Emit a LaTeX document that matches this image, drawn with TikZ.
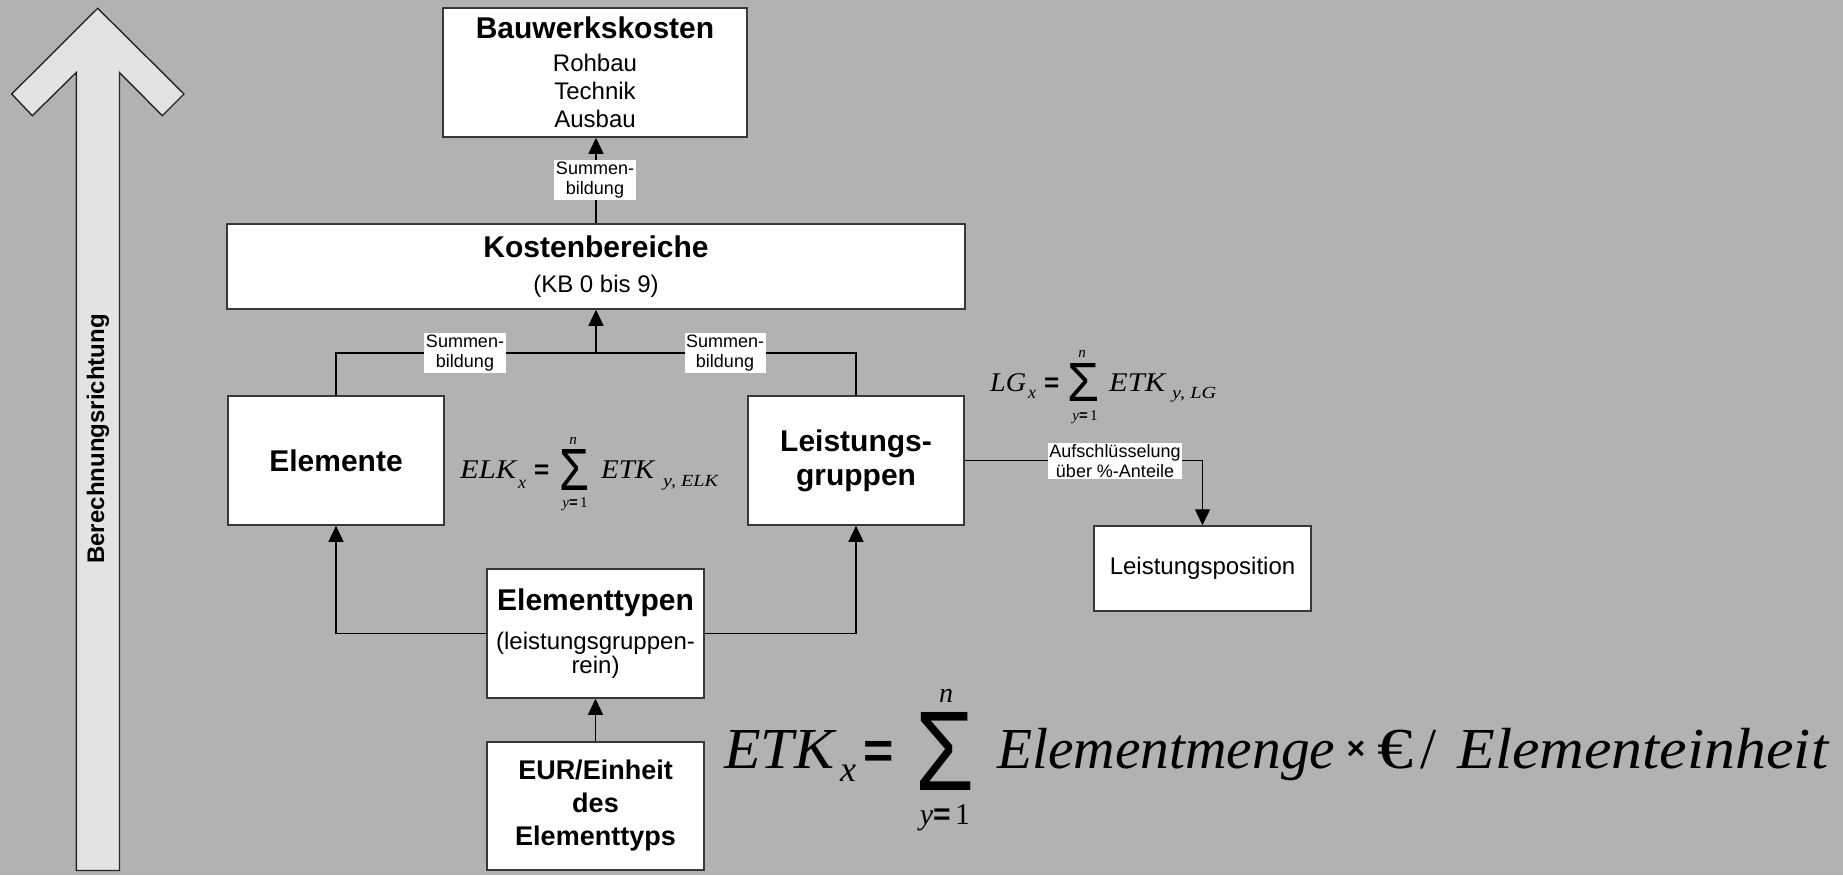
\documentclass[tikz,border=0pt]{standalone}
\usepackage{graphicx}
\usepackage{fontspec}
\setmainfont{Liberation Sans}
\newfontfamily\frmserif{Liberation Serif}
\newfontfamily\frmsans{Liberation Sans}
\usetikzlibrary{arrows.meta}
\definecolor{bggray}{RGB}{178,178,178}
\definecolor{arrowfill}{RGB}{227,227,227}
\newcommand\fs[2]{\fontsize{#1}{#2}\selectfont}
\newcommand\formit[1]{\frmserif\itshape\fontsize{#1}{#1}\selectfont}
\newcommand\formeq[1]{\frmsans\bfseries\fontsize{#1}{#1}\selectfont}
\newcommand\lowlim[1]{{\formit{#1}y}{\formeq{#1}=\hspace{0.15em}}{\frmserif\upshape\fontsize{#1}{#1}\selectfont 1}}
\newcommand\sigglyph[2]{\resizebox{#1}{#2}{\frmsans Σ}}
% set a text to a given width, keeping its height
\newcommand\fitw[2]{\resizebox{#1}{\height}{#2}}

\begin{document}
\begin{tikzpicture}[x=1pt,y=-1pt,
  box/.style={draw=black!78,line width=1.5pt,fill=white,inner sep=0pt,align=center,font=\fs{24}{28}},
  conn/.style={line width=1.3pt,draw=black},
  tip/.style={-{Triangle[width=15pt,length=16pt]}},
  lbl/.style={fill=white,inner sep=1.5pt,align=center,font=\fs{18}{20}},
  frm/.style={inner sep=0pt,anchor=base west},
  frmc/.style={inner sep=0pt,anchor=base},
  sig/.style={inner sep=0pt,anchor=south west},
]
\useasboundingbox (0,0) rectangle (1843,875);
\fill[bggray] (0,0) rectangle (1843,875);

% direction arrow on the left
\draw[draw=black!85,line width=1.4pt,fill=arrowfill,line join=miter]
  (97.7,8.3) -- (184,94) -- (162.3,115.7) -- (119.5,72.5) -- (119.5,870.5)
  -- (76.3,870.5) -- (76.3,72.5) -- (32.3,115.7) -- (11.7,94) -- cycle;
\node[rotate=90,inner sep=0pt,font=\bfseries\fs{24}{28}] (dir) at (98,439) {Berechnungsrichtung};

% boxes
\node[box,minimum width=304pt,minimum height=129pt] (bwk) at (595,72.5)
  {{\bfseries\fs{30}{33}Bauwerkskosten}\\[5pt]Rohbau\\Technik\\Ausbau};
\node[box,minimum width=738pt,minimum height=85pt] (kb) at (596,266.5)
  {{\bfseries\fs{30}{33}Kostenbereiche}\\[7pt](KB 0 bis 9)};
\node[box,minimum width=216pt,minimum height=129pt,font=\bfseries\fs{30}{28}] (el) at (336,460.5)
  {Elemente};
\node[box,minimum width=216pt,minimum height=129pt,font=\bfseries\fs{30}{34}] (lg) at (856,460.5)
  {Leistungs-\\gruppen};
\node[box,minimum width=217pt,minimum height=129pt,font=\fs{24}{24}] (et) at (595.5,633.5)
  {{\bfseries\fs{30}{33}Elementtypen}\\[15pt](leistungsgruppen-\\rein)};
\node[box,minimum width=217pt,minimum height=128pt,font=\bfseries\fs{27}{33}] (eur) at (595.5,806)
  {EUR/Einheit\\des\\Elementtyps};
\node[box,minimum width=217pt,minimum height=85pt] (lp) at (1202.5,568.5)
  {Leistungsposition};

% connectors
\coordinate (jn) at (596,353);
\draw[conn,tip] (kb.north) -- (kb.north |- bwk.south);
\draw[conn] (el.north) |- (jn) -| (lg.north);
\draw[conn,tip] (jn) -- (kb.south);
\draw[conn,tip] (et.west) -| (el.south);
\draw[conn,tip] (et.east) -| (lg.south);
\draw[conn,tip] (eur.north) -- (et.south);
\draw[conn,tip] (lg.east) -| (lp.north);

% connector labels
\node[lbl] (s1) at (595,180) {Summen-\\bildung};
\node[lbl] (s2) at (465,353) {Summen-\\bildung};
\node[lbl] (s3) at (725,353) {Summen-\\bildung};
\node[lbl] (auf) at (1115,461) {Aufschlüsselung\\über \%-Anteile};

% ELK formula
\node[frm,font=\formit{27}] (elk) at (460,478) {\fitw{56pt}{ELK}};
\node[frm,font=\formit{18}] (elkx) at (518,488) {x};
\node[frm,font=\formeq{26}] (elkeq) at (534,478) {=};
\node[sig] (elksig) at (559,491) {\sigglyph{30pt}{41pt}};
\node[frmc,font=\formit{15}] (elkn) at (573,444) {n};
\node[frmc] (elky) at (575,507) {\lowlim{15}};
\node[frm,font=\formit{27}] (elketk) at (601,478) {\fitw{53pt}{ETK}};
\node[frm,font=\formit{17}] (elksub) at (663,486) {\fitw{55pt}{y, ELK}};

% LG formula
\node[frm,font=\formit{27}] (lgf) at (990,391) {\fitw{36pt}{LG}};
\node[frm,font=\formit{18}] (lgx) at (1028,398) {x};
\node[frm,font=\formeq{26}] (lgeq) at (1044,391) {=};
\node[sig] (lgsig) at (1067,402) {\sigglyph{32pt}{38pt}};
\node[frmc,font=\formit{15}] (lgn) at (1082,357) {n};
\node[frmc] (lgy) at (1085,420) {\lowlim{15}};
\node[frm,font=\formit{27}] (lgetk) at (1109,391) {\fitw{56pt}{ETK}};
\node[frm,font=\formit{17}] (lgsub) at (1172,398) {\fitw{44pt}{y, LG}};

% ETK formula
\node[frm,font=\formit{58}] (etk) at (724,768) {\fitw{110pt}{ETK}};
\node[frm,font=\formit{36}] (etkx) at (840,781) {x};
\node[frm,font=\formeq{52}] (etkeq) at (863,768) {=};
\node[sig] (etksig) at (915,791) {\sigglyph{59pt}{78pt}};
\node[frmc,font=\formit{28}] (etkn) at (946,702) {n};
\node[frmc] (etky) at (945,824) {\lowlim{30}};
\node[frm,font=\formit{58}] (menge) at (997,768) {\fitw{338pt}{Elementmenge}};
\node[inner sep=0pt,font=\formeq{32}] (times) at (1356,750) {×};
\node[frm,font=\frmserif\fs{58}{58}] (euro) at (1377,768) {\fitw{36pt}{€}};
\node[frm,font=\frmserif\fs{58}{58}] (slash) at (1420,768) {/};
\node[frm,font=\formit{58}] (einheit) at (1457,768) {\fitw{371pt}{Elementeinheit}};
\end{tikzpicture}
\end{document}
